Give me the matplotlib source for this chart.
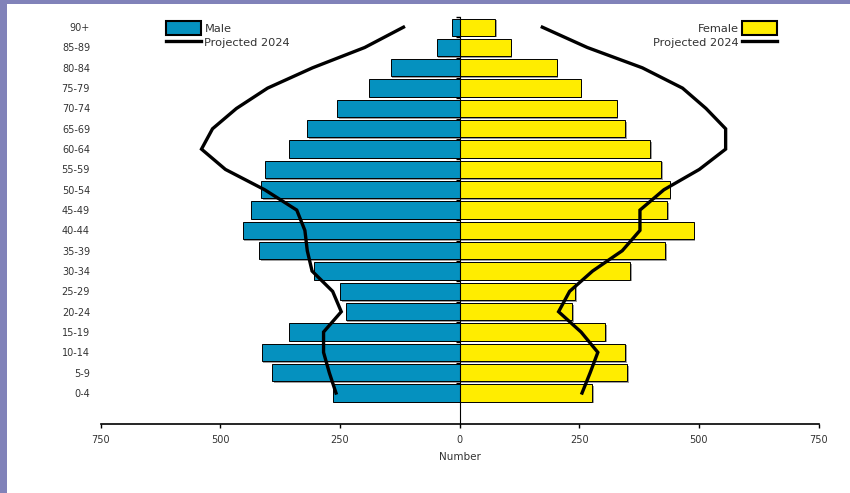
import matplotlib
matplotlib.use("Agg")
import matplotlib.pyplot as plt
import matplotlib.patheffects as pe
from matplotlib.patches import Rectangle, Patch
from matplotlib.lines import Line2D
import numpy as np

# === DATA (youngest to oldest) ===
age_groups = ["0-4", "5-9", "10-14", "15-19", "20-24", "25-29", "30-34", "35-39",
              "40-44", "45-49", "50-54", "55-59", "60-64", "65-69", "70-74",
              "75-79", "80-84", "85-89", "90+"]
male = [265, 392, 413, 357, 238, 249, 304, 418, 453, 435, 414, 407, 357,
        318, 255, 190, 144, 48, 15]
female = [277, 350, 346, 304, 235, 242, 357, 429, 489, 434, 439, 421, 399,
          346, 328, 253, 203, 107, 75]
male_proj = [258, 272, 284, 284, 247, 265, 308, 318, 323, 340, 407, 489, 539,
             516, 466, 401, 307, 198, 117]
female_proj = [256, 273, 289, 254, 207, 230, 278, 340, 377, 377, 427, 501, 556,
               556, 515, 466, 382, 267, 173]
xticks = [-750, -500, -250, 0, 250, 500, 750]

MALE_COL = "#0591BF"
FEMALE_COL = "#FFED00"
TEXT_COL = "#333333"
BORDER_COL = "#8182B9"

fig = plt.figure(figsize=(8.5, 4.93), dpi=100, facecolor="white")
# purple slide border (left and top)
fig.patches.append(Rectangle((0, 0), 7 / 850, 1, transform=fig.transFigure,
                             facecolor=BORDER_COL, edgecolor="none", zorder=-10))
fig.patches.append(Rectangle((0, 1 - 4 / 493), 1, 4 / 493, transform=fig.transFigure,
                             facecolor=BORDER_COL, edgecolor="none", zorder=-10))

ax = fig.add_axes([100.5 / 850, 1 - 424 / 493, 718 / 850, (424 - 17) / 493])
ax.set_facecolor("none")

y = np.arange(len(age_groups))
shadow = [pe.SimplePatchShadow(offset=(1.2, -1.2), shadow_rgbFace="#777777", alpha=0.7),
          pe.Normal()]
bars_m = ax.barh(y, -np.array(male), height=0.85, color=MALE_COL, edgecolor="black",
                 linewidth=0.7, zorder=2)
bars_f = ax.barh(y, female, height=0.85, color=FEMALE_COL, edgecolor="black",
                 linewidth=0.7, zorder=2)
for b in list(bars_m) + list(bars_f):
    b.set_path_effects(shadow)

ax.plot(-np.array(male_proj), y, color="black", lw=2.4, zorder=4, solid_joinstyle="miter")
ax.plot(female_proj, y, color="black", lw=2.4, zorder=4, solid_joinstyle="miter")

ax.set_xlim(-750, 750)
ax.set_ylim(-1.525, 18.5)

# axes styling
for s in ["top", "right"]:
    ax.spines[s].set_visible(False)
ax.spines["left"].set_position(("data", 0))
ax.spines["left"].set_bounds(-1.525, 18.5)
ax.spines["left"].set_linewidth(0.8)
ax.spines["left"].set_zorder(3)
ax.spines["bottom"].set_linewidth(1.2)

ax.set_xticks(xticks)
ax.set_xticklabels([str(abs(v)) for v in xticks], fontsize=7, color=TEXT_COL)
ax.tick_params(axis="x", length=3, width=1, pad=5)
ax.set_xlabel("Number", fontsize=7.5, color=TEXT_COL, labelpad=5)

ax.set_yticks(y)
ax.set_yticklabels(age_groups, fontsize=7, color=TEXT_COL)
ax.tick_params(axis="y", which="major", length=0, pad=266)
ax.set_yticks(np.arange(len(age_groups)) + 0.5, minor=True)
ax.tick_params(axis="y", which="minor", length=3, width=1, color="black")

# legends
male_handles = [Patch(facecolor=MALE_COL, edgecolor="black", linewidth=1.5),
                Line2D([], [], color="black", lw=2.4)]
leg1 = fig.legend(male_handles, ["Male", "Projected 2024"], loc="upper left",
                  bbox_to_anchor=(160 / 850, 1 - 15 / 493), frameon=False, fontsize=8.2,
                  handlelength=3.1, handleheight=1.6, handletextpad=0.3,
                  labelspacing=0.0, borderpad=0)
female_handles = [Patch(facecolor=FEMALE_COL, edgecolor="black", linewidth=1.5),
                  Line2D([], [], color="black", lw=2.4)]
leg2 = fig.legend(female_handles, ["Female", "Projected 2024"], loc="upper right",
                  bbox_to_anchor=(783 / 850, 1 - 15 / 493), frameon=False, fontsize=8.2,
                  handlelength=3.1, handleheight=1.6, handletextpad=0.3,
                  labelspacing=0.0, borderpad=0, markerfirst=False)
for leg in (leg1, leg2):
    for t in leg.get_texts():
        t.set_color(TEXT_COL)

fig.savefig("out.png", dpi=100, facecolor=fig.get_facecolor())
